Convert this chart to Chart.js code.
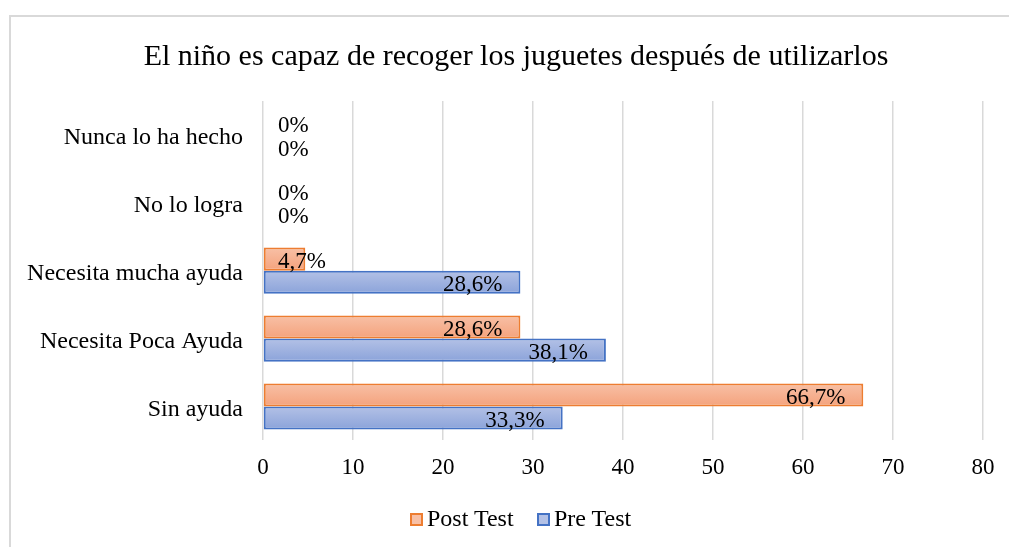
<!DOCTYPE html>
<html lang="es">
<head>
    <meta charset="UTF-8">
    <title>El niño es capaz de recoger los juguetes</title>
    <style>
        body {
            margin: 0;
            padding: 0;
            background: #ffffff;
            overflow: hidden;
        }
        .wrap {
            position: relative;
            width: 1009px;
            height: 547px;
        }
        .frame {
            position: absolute;
            left: 9px;
            top: 15px;
            width: 1100px;
            height: 600px;
            border: 2px solid #d9d9d9;
            box-sizing: border-box;
            pointer-events: none;
        }
        canvas {
            position: absolute;
            left: 0;
            top: 0;
        }
        .legend {
            position: absolute;
            top: 505px;
            left: 0;
            height: 26px;
            font-family: "Liberation Serif", "Times New Roman", serif;
            font-size: 24px;
            line-height: 26px;
            color: #000;
        }
        .legend span.item {
            position: absolute;
            white-space: nowrap;
        }
        .legend span.box {
            display: inline-block;
            width: 13px;
            height: 13px;
            box-sizing: border-box;
            border: 2px solid;
            margin-right: 4px;
            vertical-align: 0px;
        }
    </style>
</head>
<body>
    <div class="wrap">
        <canvas id="chart" width="1009" height="547"></canvas>
        <div class="frame"></div>
        <div class="legend" id="legend"></div>
    </div>

    <script src="https://cdn.jsdelivr.net/npm/chart.js"></script>
    <script>
        const categories = ['Nunca lo ha hecho', 'No lo logra', 'Necesita mucha ayuda', 'Necesita Poca Ayuda', 'Sin ayuda'];
        const postTest = [0, 0, 4.7, 28.6, 66.7];
        const preTest = [0, 0, 28.6, 38.1, 33.3];
        const xTicks = [0, 10, 20, 30, 40, 50, 60, 70, 80];

        const FONT = '"Liberation Serif", "Times New Roman", serif';

        const fills = [
            { top: '#f8c0a6', bottom: '#f4a27c', border: '#ed7d31' },
            { top: '#b3c1e6', bottom: '#8ba3da', border: '#4472c4' }
        ];

        // vertical gradient per bar, like the Excel fill
        const barGradient = {
            id: 'barGradient',
            beforeDatasetsDraw(chart) {
                const ctx = chart.ctx;
                chart.data.datasets.forEach((ds, i) => {
                    const meta = chart.getDatasetMeta(i);
                    meta.data.forEach(bar => {
                        const h = bar.height;
                        const g = ctx.createLinearGradient(0, bar.y - h / 2, 0, bar.y + h / 2);
                        g.addColorStop(0, fills[i].top);
                        g.addColorStop(1, fills[i].bottom);
                        bar.options = Object.assign({}, bar.options, { backgroundColor: g });
                    });
                });
            }
        };

        // title sits centred over the frame, a bit right of the canvas centre
        const shiftTitle = {
            id: 'shiftTitle',
            afterLayout(chart) {
                if (chart.titleBlock) chart.titleBlock.left += 29;
            }
        };

        const valueLabels = {
            id: 'valueLabels',
            afterDatasetsDraw(chart) {
                const ctx = chart.ctx;
                const x0 = chart.scales.x.getPixelForValue(0);
                ctx.save();
                ctx.font = '23px ' + FONT;
                ctx.fillStyle = '#000000';
                ctx.textBaseline = 'middle';
                ctx.textAlign = 'left';
                chart.data.datasets.forEach((ds, i) => {
                    const meta = chart.getDatasetMeta(i);
                    meta.data.forEach((bar, j) => {
                        const txt = String(ds.data[j]).replace('.', ',') + '%';
                        const w = ctx.measureText(txt).width;
                        let left = bar.x - 18 - w;
                        if (left < x0 + 15) left = x0 + 15;
                        ctx.fillText(txt, left, bar.y + 3);
                    });
                });
                ctx.restore();
            }
        };

        const chart = new Chart(document.getElementById('chart'), {
            type: 'bar',
            data: {
                labels: categories,
                datasets: [
                    {
                        label: 'Post Test',
                        data: postTest,
                        backgroundColor: fills[0].bottom,
                        borderColor: fills[0].border,
                        borderWidth: 2,
                        borderSkipped: false,
                        categoryPercentage: 0.68,
                        barPercentage: 1
                    },
                    {
                        label: 'Pre Test',
                        data: preTest,
                        backgroundColor: fills[1].bottom,
                        borderColor: fills[1].border,
                        borderWidth: 2,
                        borderSkipped: false,
                        categoryPercentage: 0.68,
                        barPercentage: 1
                    }
                ]
            },
            options: {
                indexAxis: 'y',
                responsive: false,
                animation: false,
                layout: {
                    padding: { left: 20, right: 26, top: 39, bottom: 51 }
                },
                plugins: {
                    title: {
                        display: true,
                        text: 'El niño es capaz de recoger los juguetes después de utilizarlos',
                        color: '#000000',
                        font: { family: FONT, size: 30, weight: 'normal' },
                        padding: { top: 0, bottom: 26 }
                    },
                    legend: { display: false },
                    tooltip: { enabled: false }
                },
                scales: {
                    x: {
                        min: 0,
                        max: 80,
                        afterBuildTicks(scale) {
                            scale.ticks = xTicks.map(v => ({ value: v }));
                        },
                        grid: {
                            color: '#d9d9d9',
                            lineWidth: 1.5,
                            drawTicks: false
                        },
                        border: { display: false },
                        ticks: {
                            color: '#000000',
                            font: { family: FONT, size: 23 },
                            padding: 14
                        }
                    },
                    y: {
                        grid: { display: false, drawTicks: false },
                        border: { display: false },
                        ticks: {
                            color: '#000000',
                            font: { family: FONT, size: 24 },
                            padding: 20,
                            labelOffset: 3
                        },
                        afterFit(scale) {
                            scale.width = 243;
                        }
                    }
                }
            },
            plugins: [barGradient, shiftTitle, valueLabels]
        });

        // legend below the plot, built from the datasets
        const legendEl = document.getElementById('legend');
        const legendLeft = [410, 537];
        chart.data.datasets.forEach((ds, i) => {
            const item = document.createElement('span');
            item.className = 'item';
            item.style.left = legendLeft[i] + 'px';
            const box = document.createElement('span');
            box.className = 'box';
            box.style.background = fills[i].top;
            box.style.borderColor = fills[i].border;
            item.appendChild(box);
            item.appendChild(document.createTextNode(ds.label));
            legendEl.appendChild(item);
        });
    </script>
</body>
</html>
